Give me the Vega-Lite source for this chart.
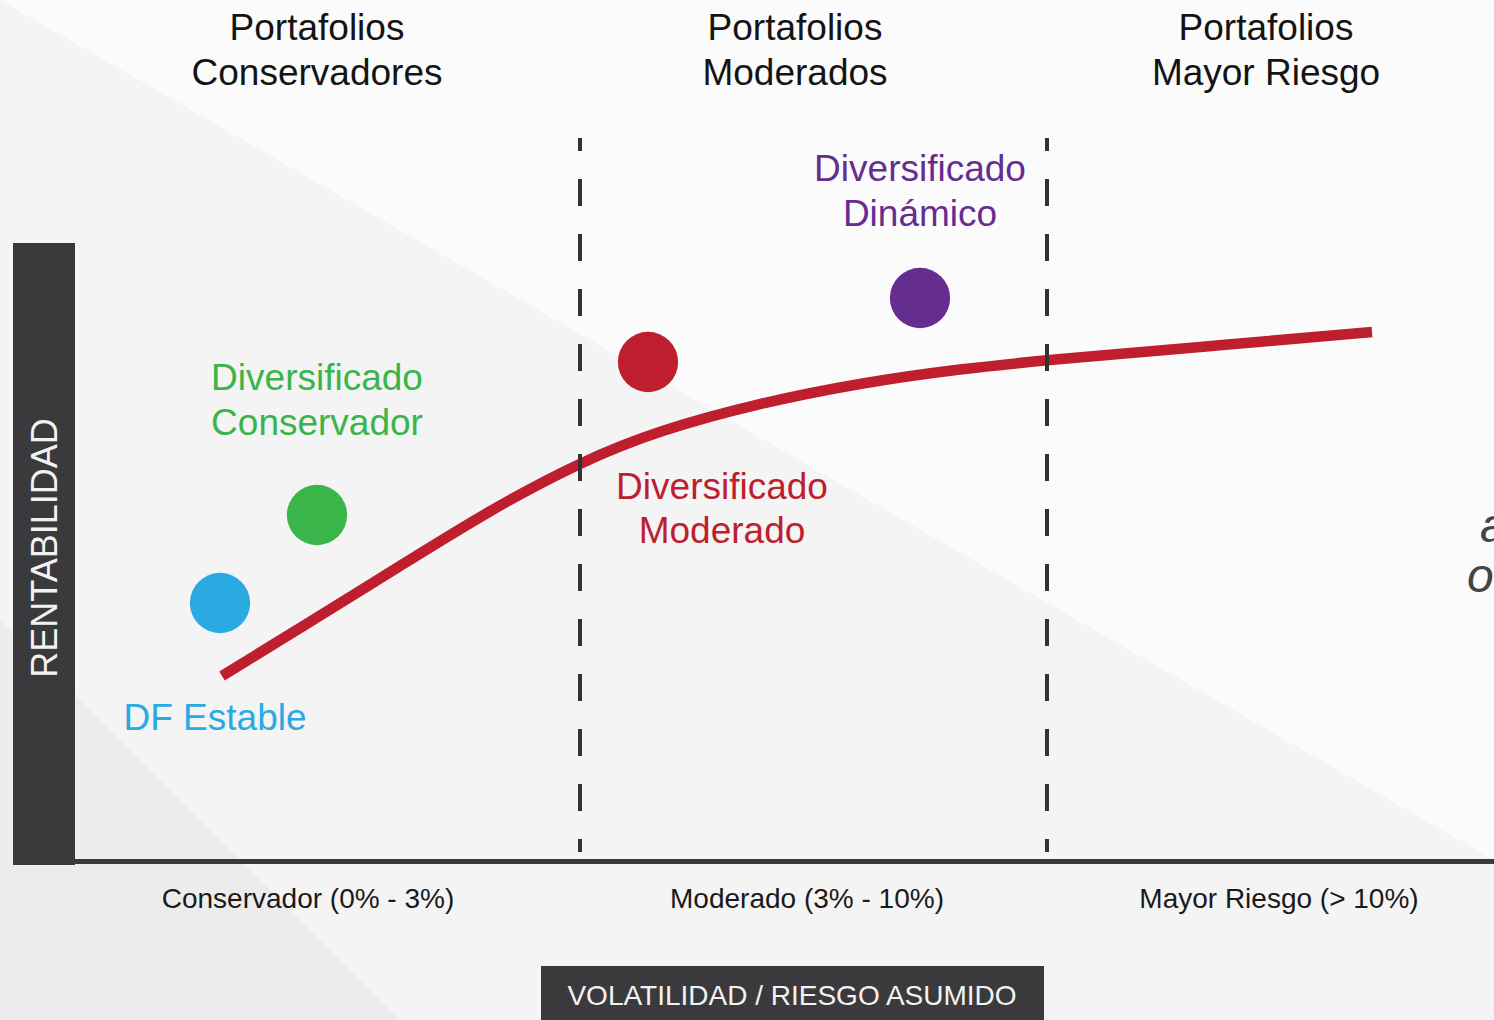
{
  "$schema": "https://vega.github.io/schema/vega-lite/v6.json",
  "width": 1494,
  "height": 1020,
  "autosize": {"type": "none"},
  "padding": 0,
  "background": "#fbfbfb",
  "view": {"stroke": null, "fill": "#fbfbfb"},
  "config": {"font": "Liberation Sans"},
  "encoding": {
    "x": {"field": "x", "type": "quantitative", "scale": {"domain": [0, 1494], "nice": false, "zero": false}, "axis": null},
    "y": {"field": "y", "type": "quantitative", "scale": {"domain": [0, 1020], "nice": false, "zero": false, "reverse": true}, "axis": null}
  },
  "layer": [
    {
      "data": {"values": [{"x": 0, "y": 0, "y2": 1020}, {"x": 1494, "y": 860, "y2": 1020}]},
      "mark": {"type": "area", "color": "#f4f4f4", "opacity": 1},
      "encoding": {"y2": {"field": "y2"}}
    },
    {
      "data": {"values": [{"x": 0, "y": 620, "y2": 1020}, {"x": 400, "y": 1020, "y2": 1020}]},
      "mark": {"type": "area", "color": "#ececec", "opacity": 1},
      "encoding": {"y2": {"field": "y2"}}
    },
    {
      "data": {"values": [
        {"elemento": "eje_y", "x": 13, "x2": 75, "y": 243, "y2": 865},
        {"elemento": "eje_x", "x": 75, "x2": 1494, "y": 859, "y2": 864},
        {"elemento": "caja_x", "x": 541, "x2": 1044, "y": 966, "y2": 1020}
      ]},
      "mark": {"type": "rect", "color": "#3a3a3c"},
      "encoding": {"x2": {"field": "x2"}, "y2": {"field": "y2"}}
    },
    {
      "data": {"values": [
        {"x": 222, "y": 676}, {"x": 300, "y": 628}, {"x": 400, "y": 566}, {"x": 490, "y": 510},
        {"x": 580, "y": 462}, {"x": 660, "y": 430}, {"x": 760, "y": 403}, {"x": 860, "y": 383},
        {"x": 960, "y": 369}, {"x": 1047, "y": 360}, {"x": 1200, "y": 347}, {"x": 1372, "y": 332}
      ]},
      "mark": {"type": "line", "color": "#be1e2d", "strokeWidth": 10.5, "interpolate": "basis", "strokeCap": "butt"},
      "encoding": {}
    },
    {
      "data": {"values": [{"x": 580, "y": 138, "y2": 852}, {"x": 1047, "y": 138, "y2": 852}]},
      "mark": {"type": "rule", "color": "#333333", "strokeWidth": 4, "strokeDash": [27, 28], "strokeDashOffset": 14},
      "encoding": {"y2": {"field": "y2"}}
    },
    {
      "data": {"values": [
        {"fondo": "Estable", "x": 220, "y": 603},
        {"fondo": "Conservador", "x": 317, "y": 515},
        {"fondo": "Moderado", "x": 648, "y": 362},
        {"fondo": "Dinámico", "x": 920, "y": 298}
      ]},
      "mark": {"type": "circle", "size": 3632, "opacity": 1},
      "encoding": {
        "color": {"field": "fondo", "type": "nominal", "scale": {"domain": ["Estable", "Conservador", "Moderado", "Dinámico"], "range": ["#29abe2", "#39b54a", "#be1e2d", "#662d91"]}, "legend": null}
      }
    },
    {
      "data": {"values": [
        {"fondo": "Conservador", "t": "Diversificado", "x": 317, "y": 390},
        {"fondo": "Conservador", "t": "Conservador", "x": 317, "y": 435},
        {"fondo": "Dinámico", "t": "Diversificado", "x": 920, "y": 181},
        {"fondo": "Dinámico", "t": "Dinámico", "x": 920, "y": 226},
        {"fondo": "Moderado", "t": "Diversificado", "x": 722, "y": 499},
        {"fondo": "Moderado", "t": "Moderado", "x": 722, "y": 543},
        {"fondo": "Estable", "t": "DF Estable", "x": 215, "y": 730}
      ]},
      "mark": {"type": "text", "fontSize": 37, "align": "center", "baseline": "alphabetic"},
      "encoding": {
        "text": {"field": "t"},
        "color": {"field": "fondo", "type": "nominal", "legend": null}
      }
    },
    {
      "data": {"values": [
        {"t": "Portafolios", "x": 317, "y": 40},
        {"t": "Conservadores", "x": 317, "y": 85},
        {"t": "Portafolios", "x": 795, "y": 40},
        {"t": "Moderados", "x": 795, "y": 85},
        {"t": "Portafolios", "x": 1266, "y": 40},
        {"t": "Mayor Riesgo", "x": 1266, "y": 85}
      ]},
      "mark": {"type": "text", "fontSize": 37, "align": "center", "baseline": "alphabetic", "color": "#141414"},
      "encoding": {"text": {"field": "t"}}
    },
    {
      "data": {"values": [
        {"t": "Conservador (0% - 3%)", "x": 308, "y": 908},
        {"t": "Moderado (3% - 10%)", "x": 807, "y": 908},
        {"t": "Mayor Riesgo (> 10%)", "x": 1279, "y": 908}
      ]},
      "mark": {"type": "text", "fontSize": 28, "align": "center", "baseline": "alphabetic", "color": "#1a1a1a"},
      "encoding": {"text": {"field": "t"}}
    },
    {
      "data": {"values": [{"t": "VOLATILIDAD / RIESGO ASUMIDO", "x": 792, "y": 1005}]},
      "mark": {"type": "text", "fontSize": 28, "align": "center", "baseline": "alphabetic", "color": "#f2f2f2"},
      "encoding": {"text": {"field": "t"}}
    },
    {
      "data": {"values": [{"t": "RENTABILIDAD", "x": 57, "y": 548}]},
      "mark": {"type": "text", "fontSize": 36, "align": "center", "baseline": "alphabetic", "angle": 270, "color": "#f2f2f2"},
      "encoding": {"text": {"field": "t"}}
    },
    {
      "data": {"values": [{"t": "a", "x": 1480, "y": 542}, {"t": "o", "x": 1467, "y": 592}]},
      "mark": {"type": "text", "fontSize": 48, "align": "left", "baseline": "alphabetic", "fontStyle": "italic", "color": "#444444"},
      "encoding": {"text": {"field": "t"}}
    }
  ]
}
